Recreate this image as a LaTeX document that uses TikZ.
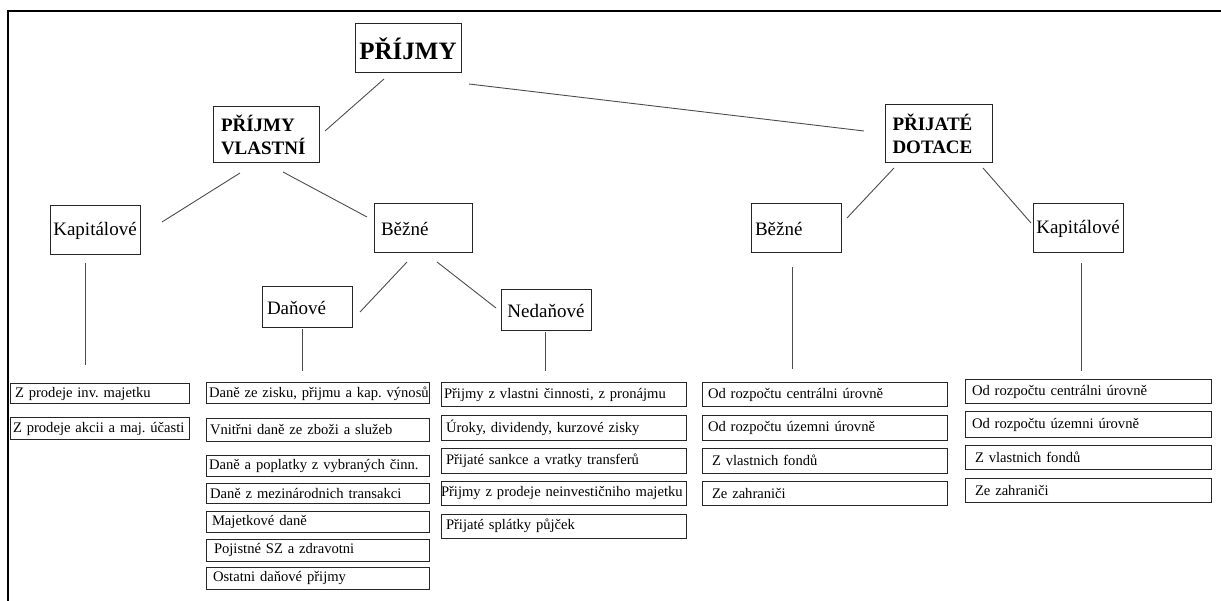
\documentclass[tikz,border=0pt]{standalone}
\usepackage{fontspec}
\setmainfont{Liberation Serif}
\frenchspacing
\begin{document}
\begin{tikzpicture}[x=1pt,y=-1pt,
  box/.style={draw=black!85, line width=1pt, inner ysep=0pt, outer sep=0pt},
  cell/.style={box, inner xsep=3pt, align=left, font=\fontsize{14.6}{17}\selectfont},
  colA/.style={cell, minimum width=179pt, text width=173pt},
  colD/.style={cell, minimum width=223pt, text width=217pt},
  colN/.style={cell, minimum width=245pt, text width=239pt},
  colR/.style={cell, minimum width=245pt, text width=239pt},
  colK/.style={cell, minimum width=246pt, text width=240pt},
  mid/.style={box, inner xsep=0pt, font=\fontsize{19}{22}\selectfont},
  head/.style={box, inner xsep=0pt, align=left, font=\bfseries\fontsize{19}{23}\selectfont},
  conn/.style={draw=black!70, line width=0.9pt},
  frame/.style={draw=black, line width=2pt}
]
\useasboundingbox (0,0) rectangle (1221,601);
\draw[frame] (1221,11) -- (8,11) -- (8,601);

% top level
\node[box, minimum width=106pt, minimum height=49pt, font=\bfseries\fontsize{25}{28}\selectfont] (prijmy) at (408,48.5) {PŘÍJMY};
\node[head, minimum width=106pt, minimum height=56pt, text width=90pt] (vlastni) at (266,135) {PŘÍJMY\\VLASTNÍ};
\node[head, minimum width=107pt, minimum height=58pt, text width=92pt] (dotace) at (938.5,134) {PŘIJATÉ\\DOTACE};

% middle level
\node[mid, minimum width=90pt, minimum height=49pt] (kapL) at (95,230.5) {Kapitálové};
\node[mid, minimum width=98pt, minimum height=49pt, text width=84pt, align=left] (bezL) at (423,228.5) {Běžné};
\node[mid, minimum width=90pt, minimum height=41pt, text width=80pt, align=left] (dan) at (307,307.5) {Daňové};
\node[mid, minimum width=90pt, minimum height=41pt] (nedan) at (546,310.5) {Nedaňové};
\node[mid, minimum width=90pt, minimum height=49pt, text width=82pt, align=left] (bezR) at (796,228.5) {Běžné};
\node[mid, minimum width=90pt, minimum height=49pt] (kapR) at (1078,228.5) {Kapitálové};

% bottom: kapitálové (left)
\node[colA, minimum height=20pt] (a1) at (99.5,394) {\mbox{\hspace{2pt}Z prodeje inv. majetku}};
\node[colA, minimum height=21pt] (a2) at (99.5,428.5) {\mbox{Z prodeje akcii a maj. účasti}};

% daňové
\node[colD, minimum height=21pt] (d1) at (317.5,393.5) {\mbox{Daně ze zisku, přijmu a kap. výnosů}};
\node[colD, minimum height=22pt] (d2) at (317.5,430) {\mbox{\hspace{1pt}Vnitřni daně ze zboži a služeb}};
\node[colD, minimum height=21pt] (d3) at (317.5,465.5) {\mbox{Daně a poplatky z vybraných činn.}};
\node[colD, minimum height=20pt] (d4) at (317.5,493) {\mbox{\hspace{1pt}Daně z mezinárodnich transakci}};
\node[colD, minimum height=21pt] (d5) at (317.5,521.5) {\mbox{\hspace{3pt}Majetkové daně}};
\node[colD, minimum height=22pt] (d6) at (317.5,550) {\mbox{\hspace{5pt}Pojistné SZ a zdravotni}};
\node[colD, minimum height=22pt] (d7) at (317.5,578) {\mbox{\hspace{4pt}Ostatni daňové přijmy}};

% nedaňové
\node[colN, minimum height=24pt] (n1) at (563.5,395) {\mbox{Přijmy z vlastni činnosti, z pronájmu}};
\node[colN, minimum height=24pt] (n2) at (563.5,428) {\mbox{\hspace{2pt}Úroky, dividendy, kurzové zisky}};
\node[colN, minimum height=25pt] (n3) at (563.5,460.5) {\mbox{\hspace{2pt}Přijaté sankce a vratky transferů}};
\node[colN, minimum height=24pt] (n4) at (563.5,493) {\mbox{\hspace{-3pt}Přijmy z prodeje neinvestičniho majetku}};
\node[colN, minimum height=24pt] (n5) at (563.5,526) {\mbox{\hspace{2pt}Přijaté splátky půjček}};

% běžné (right)
\node[colR, minimum height=24pt] (r1) at (824.5,395) {\mbox{\hspace{3pt}Od rozpočtu centrálni úrovně}};
\node[colR, minimum height=24pt] (r2) at (824.5,428) {\mbox{\hspace{3pt}Od rozpočtu územni úrovně}};
\node[colR, minimum height=25pt] (r3) at (824.5,460.5) {\mbox{\hspace{7pt}Z vlastnich fondů}};
\node[colR, minimum height=24pt] (r4) at (824.5,493) {\mbox{\hspace{7pt}Ze zahraniči}};

% kapitálové (right)
\node[colK, minimum height=24pt] (k1) at (1088,392) {\mbox{\hspace{4pt}Od rozpočtu centrálni úrovně}};
\node[colK, minimum height=25pt] (k2) at (1088,424.5) {\mbox{\hspace{4pt}Od rozpočtu územni úrovně}};
\node[colK, minimum height=24pt] (k3) at (1088,457) {\mbox{\hspace{7pt}Z vlastnich fondů}};
\node[colK, minimum height=24pt] (k4) at (1088,490) {\mbox{\hspace{7pt}Ze zahraniči}};

% connectors
\draw[conn] ([shift={(29,6)}]prijmy.south west) -- ([shift={(6,-4)}]vlastni.east);
\draw[conn] ([shift={(8,11)}]prijmy.south east) -- ([shift={(-21,-3)}]dotace.west);
\draw[conn] ([shift={(27,10)}]vlastni.south west) -- ([shift={(22,-8.5)}]kapL.east);
\draw[conn] ([shift={(17,9)}]vlastni.south) -- ([shift={(-7,-11.5)}]bezL.west);
\draw[conn] ([shift={(-10,8)}]kapL.south) -- ([shift={(-14.5,-19)}]a1.north);
\draw[conn] ([shift={(-16,9)}]bezL.south) -- ([shift={(8,4.5)}]dan.east);
\draw[conn] ([shift={(14,9)}]bezL.south) -- ([shift={(-5,-2.5)}]nedan.west);
\draw[conn] ([shift={(-5,1)}]dan.south) -- ([shift={(-15.5,-12)}]d1.north);
\draw[conn] ([shift={(-1,1)}]nedan.south) -- ([shift={(-18.5,-12)}]n1.north);
\draw[conn] ([shift={(9,5)}]dotace.south west) -- ([shift={(6,-10.5)}]bezR.east);
\draw[conn] ([shift={(-9,5)}]dotace.south east) -- ([shift={(-2,-5.5)}]kapR.west);
\draw[conn] ([shift={(-4,14)}]bezR.south) -- ([shift={(-32.5,-14)}]r1.north);
\draw[conn] ([shift={(3,10)}]kapR.south) -- ([shift={(-7,-9)}]k1.north);
\end{tikzpicture}
\end{document}
